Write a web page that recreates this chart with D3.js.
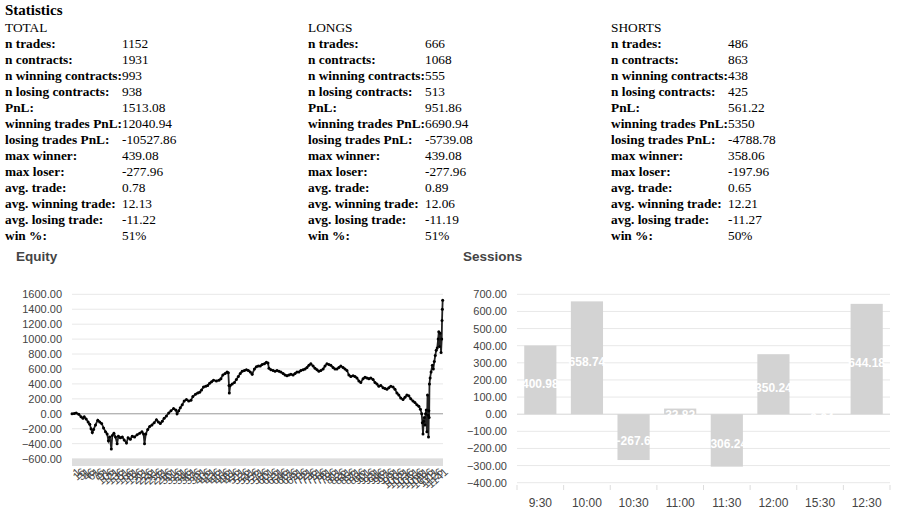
<!DOCTYPE html>
<html>
<head>
<meta charset="utf-8">
<script src="https://cdn.jsdelivr.net/npm/d3@7"></script>
<style>
  body { margin: 0; background: #fff; }
  svg { display: block; }
</style>
</head>
<body>
<script>
// ---- data ----
const statGroups = ['TOTAL', 'LONGS', 'SHORTS'];
const statLabels = ['n trades:', 'n contracts:', 'n winning contracts:', 'n losing contracts:', 'PnL:',
  'winning trades PnL:', 'losing trades PnL:', 'max winner:', 'max loser:', 'avg. trade:',
  'avg. winning trade:', 'avg. losing trade:', 'win %:'];
const totalValues = ['1152', '1931', '993', '938', '1513.08', '12040.94', '-10527.86', '439.08', '-277.96', '0.78', '12.13', '-11.22', '51%'];
const longValues  = ['666', '1068', '555', '513', '951.86', '6690.94', '-5739.08', '439.08', '-277.96', '0.89', '12.06', '-11.19', '51%'];
const shortValues = ['486', '863', '438', '425', '561.22', '5350', '-4788.78', '358.06', '-197.96', '0.65', '12.21', '-11.27', '50%'];

// equity curve (trade number, cumulative PnL)
const equityTrade = [0,7,13,21,28,34,38,44,50,55,59,63,67,73,80,86,92,98,104,109,113,117,122,125,130,135,140,144,150,156,
  162,169,174,181,187,194,202,210,217,222,225,229,235,241,248,255,262,268,274,280,286,293,300,307,315,322,326,331,336,342,
  348,355,362,369,375,383,390,396,402,408,415,421,427,433,439,448,456,462,468,475,481,485,487,488,491,497,504,510,516,522,
  528,535,541,547,553,559,566,572,578,584,590,597,603,608,611,617,624,630,636,642,648,655,661,667,673,679,686,692,698,704,
  710,717,723,729,735,741,748,754,760,766,772,779,785,791,797,803,810,816,822,828,834,841,847,853,859,865,872,878,884,890,
  896,903,909,915,921,927,934,940,946,952,958,965,971,977,983,989,996,1002,1008,1014,1020,1027,1033,1039,1045,1051,1058,1064,1070,1076,
  1081,1085,1087,1089,1091,1093,1095,1097,1099,1101,1103,1105,1106,1107,1108,1109,1111,1114,1118,1121,1124,1127,1130,1133,1136,1138,1140,1142,1145,1147,
  1148,1149,1150];
const equityPnl = [0,5,12,-5,-40,-60,-40,-70,-110,-140,-200,-250,-210,-150,-85,-110,-130,-190,-240,-270,-360,-310,-470,-290,-260,-310,-400,-300,-320,-310,
  -350,-390,-320,-340,-300,-310,-280,-260,-240,-270,-400,-270,-210,-170,-150,-120,-80,-110,-130,-100,-60,-30,10,40,70,50,0,40,80,120,
  170,190,170,180,230,260,280,290,320,360,370,380,410,430,450,440,450,470,520,540,560,550,380,280,380,400,420,460,500,540,
  570,580,590,580,560,530,600,630,640,640,660,670,690,680,610,590,580,570,580,570,560,540,520,510,520,530,520,540,560,560,
  580,590,600,620,650,670,640,610,590,570,580,600,640,670,660,650,620,600,600,620,640,620,600,580,520,500,510,500,480,440,
  420,470,490,480,470,480,460,420,400,370,380,350,340,330,350,370,360,330,280,250,210,190,220,250,240,200,170,150,120,100,
  60,0,-120,-270,-100,-50,-150,0,50,-240,250,-20,-310,40,-50,400,480,560,650,600,700,780,850,880,1000,1100,900,1080,820,1000,
  1250,1400,1520];
const equityTicks = [1,16,31,46,61,76,91,106,121,136,151,166,181,196,211,226,241,256,271,286,301,316,331,346,361,376,391,406,421,436,
  451,466,481,496,511,526,541,556,571,586,601,616,631,646,661,676,691,706,721,736,751,766,781,796,811,826,841,856,871,886,
  901,916,931,946,961,976,991,1006,1021,1036,1051,1066,1081,1096,1111,1126,1141];
const equityYTicks = [-600,-400,-200,0,200,400,600,800,1000,1200,1400,1600];

const sessions = ['9:30', '10:00', '10:30', '11:00', '11:30', '12:00', '15:30', '12:30'];
const sessionPnl = [400.98, 658.74, -267.6, 32.82, -306.24, 350.24, -0.04, 644.18];
const sessionYTicks = [-400,-300,-200,-100,0,100,200,300,400,500,600,700];

// ---- drawing ----
const svg = d3.select(document.body).append('svg')
  .attr('width', 907).attr('height', 526);

const serif = '"Liberation Serif", "Times New Roman", serif';
const sans = '"Liberation Sans", Arial, sans-serif';
const fmt = d3.format('.2f');

drawStats();
drawEquity();
drawSessions();

function drawStats(){
  svg.append('text').attr('x', 5).attr('y', 15)
    .style('font-family', serif).style('font-size', '15px').style('font-weight', 'bold')
    .text('Statistics');

  const groupValues = [totalValues, longValues, shortValues];
  const colX = [5, 308, 611];
  const rowH = 16, top = 32;

  groupValues.forEach((vals, gi) => {
    const g = svg.append('g').attr('transform', `translate(${colX[gi]},0)`)
      .style('font-family', serif).style('font-size', '13.33px');
    g.append('text').attr('y', top).text(statGroups[gi]);
    const labels = g.selectAll('text.lab').data(statLabels).join('text')
      .attr('class', 'lab').attr('y', (d, i) => top + rowH * (i + 1))
      .style('font-weight', 'bold').text(d => d);
    // value column starts where the widest label ends
    const w = d3.max(labels.nodes(), n => n.getComputedTextLength());
    g.selectAll('text.val').data(vals).join('text')
      .attr('class', 'val').attr('x', w).attr('y', (d, i) => top + rowH * (i + 1))
      .text(d => d);
  });
}

function drawEquity(){
  svg.append('text').attr('x', 16).attr('y', 261)
    .style('font-family', sans).style('font-size', '13.5px').style('font-weight', 'bold')
    .style('fill', '#444').text('Equity');

  const left = 72, right = 443;
  const x = d3.scaleLinear().domain([0, 1151]).range([left, right]);
  const y = d3.scaleLinear().domain([-600, 1600]).range([458.6, 294.3]);

  const grid = svg.append('g');
  grid.selectAll('line').data(equityYTicks).join('line')
    .attr('x1', left).attr('x2', right)
    .attr('y1', d => y(d)).attr('y2', d => y(d))
    .attr('stroke', d => d === 0 ? '#999' : '#e8e8e8').attr('stroke-width', 1);

  const yAxis = d3.axisLeft(y).tickValues(equityYTicks).tickFormat(fmt).tickSize(0).tickPadding(0);
  svg.append('g').attr('transform', `translate(${left - 10},0)`).call(yAxis)
    .call(g => g.select('.domain').remove())
    .call(g => g.selectAll('text').style('font-family', sans).style('font-size', '11px').attr('fill', '#444'));

  // band under the plot that the dense axis leaves
  svg.append('rect').attr('x', left).attr('y', 459).attr('width', right - left).attr('height', 7)
    .attr('fill', '#dedede');

  const xAxis = d3.axisBottom(x).tickValues(equityTicks).tickSize(0).tickPadding(0).tickFormat(d => d);
  svg.append('g').attr('transform', 'translate(4,468)').call(xAxis)
    .call(g => g.select('.domain').remove())
    .call(g => g.selectAll('text')
      .style('font-family', sans).style('font-size', '11px').attr('fill', '#444')
      .attr('text-anchor', 'end').attr('dy', '0.6em')
      .attr('transform', 'rotate(-42)'));

  const pts = equityTrade.map((t, i) => [t, equityPnl[i]]);
  svg.append('path').datum(pts)
    .attr('fill', 'none').attr('stroke', '#222').attr('stroke-width', 1.8)
    .attr('d', d3.line().x(d => x(d[0])).y(d => y(d[1])));
  svg.append('g').selectAll('circle').data(pts).join('circle')
    .attr('cx', d => x(d[0])).attr('cy', d => y(d[1])).attr('r', 1.5).attr('fill', '#000');
}

function drawSessions(){
  svg.append('text').attr('x', 463).attr('y', 261)
    .style('font-family', sans).style('font-size', '13.5px').style('font-weight', 'bold')
    .style('fill', '#444').text('Sessions');

  const left = 517, right = 890;
  const x = d3.scaleBand().domain(sessions).range([left, right]).paddingInner(0.31).paddingOuter(0.155);
  const y = d3.scaleLinear().domain([-400, 700]).range([482.7, 294.3]);

  svg.append('g').selectAll('line').data(sessionYTicks).join('line')
    .attr('x1', left).attr('x2', right)
    .attr('y1', d => y(d)).attr('y2', d => y(d))
    .attr('stroke', d => d === 0 ? '#d6d6d6' : '#e8e8e8');

  const yAxis = d3.axisLeft(y).tickValues(sessionYTicks).tickFormat(fmt).tickSize(0).tickPadding(0);
  svg.append('g').attr('transform', `translate(${left - 10},0)`).call(yAxis)
    .call(g => g.select('.domain').remove())
    .call(g => g.selectAll('text').style('font-family', sans).style('font-size', '11px').attr('fill', '#444'));

  // category separators below the plot
  const step = x.step();
  svg.append('g').selectAll('line').data(d3.range(sessions.length + 1)).join('line')
    .attr('x1', i => left + i * step).attr('x2', i => left + i * step)
    .attr('y1', 485).attr('y2', 490).attr('stroke', '#ddd');

  const xAxis = d3.axisBottom(x).tickSize(0).tickPadding(0);
  svg.append('g').attr('transform', 'translate(0,496)').call(xAxis)
    .call(g => g.select('.domain').remove())
    .call(g => g.selectAll('text').style('font-family', sans).style('font-size', '12px')
      .attr('fill', '#444').attr('dy', '0.9em'));

  const bars = svg.append('g').selectAll('g').data(sessions.map((s, i) => ({s, v: sessionPnl[i]}))).join('g');
  bars.append('rect')
    .attr('x', d => x(d.s)).attr('width', x.bandwidth())
    .attr('y', d => y(Math.max(0, d.v)))
    .attr('height', d => Math.abs(y(d.v) - y(0)))
    .attr('fill', '#d3d3d3');
  bars.append('text')
    .attr('x', d => x(d.s) + x.bandwidth() / 2)
    .attr('y', d => (y(d.v) + y(0)) / 2 + 8)
    .attr('text-anchor', 'middle')
    .style('font-family', sans).style('font-size', '12px').style('font-weight', 'bold')
    .attr('fill', '#fff').text(d => d.v);
}
</script>
</body>
</html>
